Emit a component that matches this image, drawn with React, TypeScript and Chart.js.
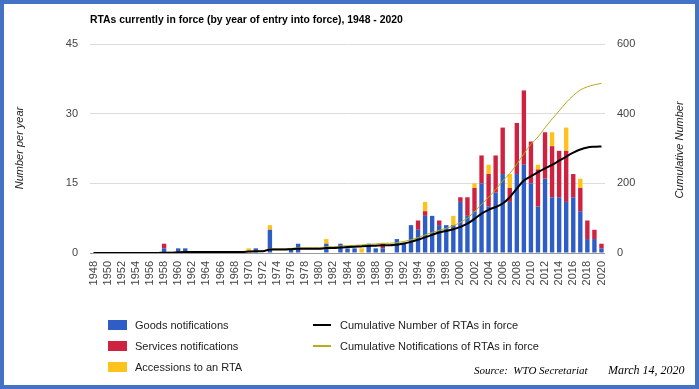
import React, { useEffect, useRef } from 'react';
import { Chart, registerables } from 'chart.js';

Chart.register(...registerables);

const TITLE = 'RTAs currently in force (by year of entry into force), 1948 - 2020';

const years = [
  '1948', '1949',
  '1950', '1951', '1952', '1953', '1954', '1955', '1956', '1957', '1958', '1959',
  '1960', '1961', '1962', '1963', '1964', '1965', '1966', '1967', '1968', '1969',
  '1970', '1971', '1972', '1973', '1974', '1975', '1976', '1977', '1978', '1979',
  '1980', '1981', '1982', '1983', '1984', '1985', '1986', '1987', '1988', '1989',
  '1990', '1991', '1992', '1993', '1994', '1995', '1996', '1997', '1998', '1999',
  '2000', '2001', '2002', '2003', '2004', '2005', '2006', '2007', '2008', '2009',
  '2010', '2011', '2012', '2013', '2014', '2015', '2016', '2017', '2018', '2019',
  '2020',
];

const goods = [
  0, 0,
  0, 0, 0, 0, 0, 0, 0, 0, 1, 0,
  1, 1, 0, 0, 0, 0, 0, 0, 0, 0,
  0, 1, 0, 5, 0, 0, 1, 2, 0, 0,
  0, 2, 0, 2, 1, 1, 0, 2, 1, 1,
  0, 3, 2, 6, 5, 8, 8, 6, 6, 6,
  11, 8, 9, 15, 10, 13, 17, 11, 17, 19,
  15, 10, 16, 12, 12, 11, 12, 9, 3, 3,
  1,
];

const services = [
  0, 0,
  0, 0, 0, 0, 0, 0, 0, 0, 1, 0,
  0, 0, 0, 0, 0, 0, 0, 0, 0, 0,
  0, 0, 0, 0, 0, 0, 0, 0, 0, 0,
  0, 0, 0, 0, 0, 0, 0, 0, 0, 1,
  0, 0, 0, 0, 2, 1, 0, 1, 0, 0,
  1, 4, 5, 6, 7, 8, 10, 3, 11, 16,
  9, 8, 10, 11, 10, 11, 5, 5, 4, 2,
  1,
];

const accessions = [
  0, 0,
  0, 0, 0, 0, 0, 0, 0, 0, 0, 0,
  0, 0, 0, 0, 0, 0, 0, 0, 0, 0,
  1, 0, 0, 1, 0, 0, 0, 0, 0, 0,
  0, 1, 0, 0, 0, 0, 1, 0, 0, 0,
  0, 0, 0, 0, 0, 2, 0, 0, 0, 2,
  0, 0, 1, 0, 2, 0, 0, 3, 0, 0,
  0, 1, 0, 3, 0, 5, 0, 2, 0, 0,
  0,
];

const cumulativeNumber = [
  0, 0,
  0, 0, 0, 0, 0, 0, 0, 0, 1, 1,
  2, 3, 3, 3, 3, 3, 3, 3, 3, 3,
  4, 5, 5, 10, 10, 10, 11, 12, 12, 12,
  12, 14, 14, 16, 17, 18, 19, 20, 21, 22,
  22, 24, 27, 32, 38, 45, 52, 59, 63, 68,
  75, 84, 98, 113, 124, 132, 142, 160, 185, 208,
  220, 232, 243, 253, 265, 277, 288, 297, 303, 305,
  306,
];

const cumulativeNotifications = [
  0, 0,
  0, 0, 0, 0, 0, 0, 0, 0, 2, 2,
  3, 4, 4, 4, 4, 4, 4, 4, 4, 4,
  5, 6, 6, 12, 12, 12, 13, 15, 15, 15,
  15, 18, 18, 20, 21, 22, 23, 25, 26, 28,
  28, 30, 33, 38, 44, 52, 59, 65, 71, 78,
  88, 100, 118, 140, 160, 182, 207, 228, 255, 285,
  312, 333, 360, 385, 408, 432, 452, 468, 477, 483,
  487,
];

const leftTicks = [0, 15, 30, 45];
const rightTicks = [0, 200, 400, 600];

const FONT = '"Liberation Sans", Arial, Helvetica, sans-serif';
const SERIF = '"Liberation Serif", "Times New Roman", serif';
const BLUE = '#2E5DC8';
const RED = '#CF2140';
const YELLOW = '#FDC31C';
const OLIVE = '#B9AA1E';

const overlayText = {
  id: 'overlayText',
  afterDraw(chart: any) {
    const ctx = chart.ctx;
    ctx.save();
    ctx.fillStyle = '#222';
    ctx.font = `italic 11px ${FONT}`;
    ctx.textAlign = 'center';
    ctx.textBaseline = 'middle';
    const titles: [number, number, string][] = [
      [20, 148, 'Number per year'],
      [680, 150, 'Cumulative Number'],
    ];
    titles.forEach(([x, y, t]) => {
      ctx.save();
      ctx.translate(x, y);
      ctx.rotate(-Math.PI / 2);
      ctx.fillText(t, 0, 0);
      ctx.restore();
    });
    ctx.fillStyle = '#000';
    ctx.font = `bold 10.4px ${FONT}`;
    ctx.textAlign = 'left';
    ctx.fillText(TITLE, 90, 20);
    ctx.restore();
  },
};

export default function App() {
  const ref = useRef<HTMLCanvasElement | null>(null);

  useEffect(() => {
    document.body.style.margin = '0';
    const canvas = ref.current;
    if (!canvas) return;
    const chart = new Chart(canvas, {
      type: 'bar',
      data: {
        labels: years,
        datasets: [
          {
            type: 'line',
            label: 'Cumulative Number of RTAs in force',
            data: cumulativeNumber,
            yAxisID: 'y1',
            borderColor: '#000',
            borderWidth: 2,
            pointRadius: 0,
            cubicInterpolationMode: 'monotone',
            order: 0,
          } as any,
          {
            type: 'line',
            label: 'Cumulative Notifications of RTAs in force',
            data: cumulativeNotifications,
            yAxisID: 'y1',
            borderColor: OLIVE,
            borderWidth: 1,
            pointRadius: 0,
            cubicInterpolationMode: 'monotone',
            order: 1,
          } as any,
          {
            label: 'Goods notifications',
            data: goods,
            backgroundColor: BLUE,
            yAxisID: 'y',
            stack: 's',
            order: 2,
          },
          {
            label: 'Services notifications',
            data: services,
            backgroundColor: RED,
            yAxisID: 'y',
            stack: 's',
            order: 2,
          },
          {
            label: 'Accessions to an RTA',
            data: accessions,
            backgroundColor: YELLOW,
            yAxisID: 'y',
            stack: 's',
            order: 2,
          },
        ],
      },
      options: {
        responsive: false,
        animation: false,
        devicePixelRatio: 1,
        datasets: { bar: { barPercentage: 0.62, categoryPercentage: 1 } },
        layout: { padding: { left: 0, right: 0, top: 44, bottom: 96 } },
        plugins: { legend: { display: false }, tooltip: { enabled: false }, title: { display: false } },
        scales: {
          x: {
            stacked: true,
            offset: true,
            grid: { display: false, drawTicks: false },
            border: { display: false },
            ticks: {
              autoSkip: false,
              minRotation: 90,
              maxRotation: 90,
              padding: 8,
              color: '#444',
              font: { family: FONT, size: 11 },
              callback: (_v: any, i: number) => (i % 2 === 0 ? years[i] : ''),
            },
            afterFit: (s: any) => { s.height = 40; },
          },
          y: {
            position: 'left',
            stacked: true,
            min: 0,
            max: 45,
            afterBuildTicks: (s: any) => { s.ticks = leftTicks.map((v) => ({ value: v })); },
            grid: {
              drawTicks: false,
              color: (c: any) => (c.tick && c.tick.value === 0 ? '#9a9a9a' : '#dcdcdc'),
            },
            border: { display: false },
            ticks: { padding: 12, color: '#444', font: { family: FONT, size: 11 } },
            afterFit: (s: any) => { s.width = 90; },
          },
          y1: {
            position: 'right',
            min: 0,
            max: 600,
            afterBuildTicks: (s: any) => { s.ticks = rightTicks.map((v) => ({ value: v })); },
            grid: { display: false, drawTicks: false },
            border: { display: false },
            ticks: { padding: 12, color: '#444', font: { family: FONT, size: 11 } },
            afterFit: (s: any) => { s.width = 94; },
          },
        },
      },
      plugins: [overlayText],
    });
    return () => chart.destroy();
  }, []);

  const legendText: React.CSSProperties = {
    position: 'absolute',
    fontFamily: FONT,
    fontSize: 11,
    color: '#222',
    lineHeight: '14px',
    whiteSpace: 'nowrap',
  };
  const sourceText: React.CSSProperties = {
    position: 'absolute',
    top: 363,
    fontFamily: SERIF,
    fontStyle: 'italic',
    fontSize: 11,
    color: '#000',
    whiteSpace: 'pre',
    lineHeight: '14px',
  };
  const box = (color: string, top: number) => (
    <div style={{ position: 'absolute', left: 108, top, width: 19, height: 10, background: color }} />
  );
  const line = (color: string, top: number) => (
    <div style={{ position: 'absolute', left: 313, top, width: 18, height: 2, background: color }} />
  );

  return (
    <div style={{ position: 'relative', width: 699, height: 389, background: '#fff', overflow: 'hidden' }}>
      <canvas ref={ref} width={699} height={389} style={{ position: 'absolute', left: 0, top: 0, width: 699, height: 389 }} />
      {box(BLUE, 320)}
      <div style={{ ...legendText, left: 135, top: 318 }}>Goods notifications</div>
      {box(RED, 341)}
      <div style={{ ...legendText, left: 135, top: 339 }}>Services notifications</div>
      {box(YELLOW, 362)}
      <div style={{ ...legendText, left: 135, top: 360 }}>Accessions to an RTA</div>
      {line('#000', 324)}
      <div style={{ ...legendText, left: 340, top: 318 }}>Cumulative Number of RTAs in force</div>
      {line(OLIVE, 345)}
      <div style={{ ...legendText, left: 340, top: 339 }}>Cumulative Notifications of RTAs in force</div>
      <div style={{ ...sourceText, left: 474 }}>{'Source:  WTO Secretariat'}</div>
      <div style={{ ...sourceText, left: 608, fontSize: 12 }}>{'March 14, 2020'}</div>
      <div style={{ position: 'absolute', left: 0, top: 0, width: 699, height: 389, boxSizing: 'border-box', border: '4px solid #4472C4', pointerEvents: 'none' }} />
    </div>
  );
}
